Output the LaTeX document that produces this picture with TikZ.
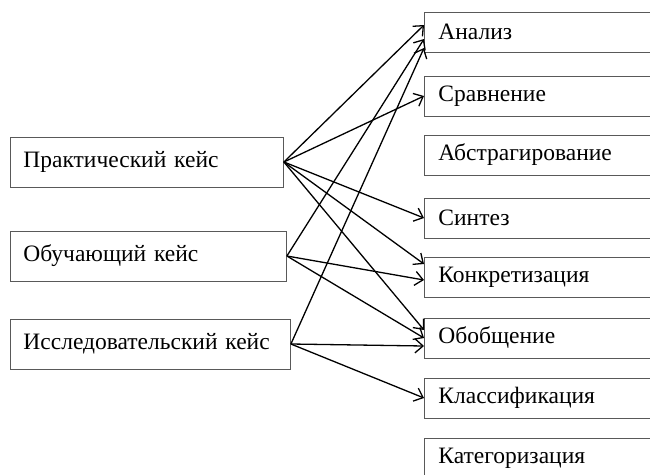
\documentclass[tikz,border=0pt]{standalone}
\usepackage{fontspec}
\setmainfont{Liberation Serif}
\usetikzlibrary{arrows.meta}

\begin{document}
\begin{tikzpicture}[x=1pt,y=-1pt,
    casebox/.style={draw=black!65,line width=0.9pt,anchor=west,align=left,
      minimum height=50pt,inner xsep=13pt,text width=#1,
      font=\fontsize{23.5}{27}\selectfont},
    opbox/.style={draw=black!65,line width=0.9pt,anchor=west,align=left,
      minimum height=40pt,inner xsep=14pt,text width=240pt,
      font=\fontsize{23.5}{27}\selectfont},
    link/.style={-{Straight Barb[length=8pt,width=14pt]},line width=1.3pt}]
  \useasboundingbox (0,0) rectangle (650,474);
  \node[casebox=247pt] (prakt) at (10,162) {Практический кейс};
  \node[casebox=250pt] (obuch) at (10,256) {Обучающий кейс};
  \node[casebox=254pt] (issl) at (10,344) {Исследовательский кейс};

  \node[opbox] (analiz) at (424,32) {Анализ};
  \node[opbox] (sravn) at (424,96) {Сравнение};
  \node[opbox] (abstr) at (424,155) {Абстрагирование};
  \node[opbox] (sintez) at (424,218) {Синтез};
  \node[opbox] (konkr) at (424,277) {Конкретизация};
  \node[opbox] (obobshch) at (424,338) {Обобщение};
  \node[opbox] (klass) at (424,398) {Классификация};
  \node[opbox] (kateg) at (424,458) {Категоризация};

  \draw[link] (prakt.east) -- ([yshift=7pt]analiz.west);
  \draw[link] (prakt.east) -- (sravn.west);
  \draw[link] (prakt.east) -- (sintez.west);
  \draw[link] (prakt.east) -- ([yshift=13pt]konkr.west);
  \draw[link] (prakt.east) -- ([yshift=8pt]obobshch.west);

  \draw[link] (obuch.east) -- ([yshift=-7pt]analiz.west);
  \draw[link] (obuch.east) -- ([yshift=-3pt]konkr.west);
  \draw[link] (obuch.east) -- (obobshch.west);

  \draw[link] (issl.east) -- ([yshift=-16pt]analiz.west);
  \draw[link] (issl.east) -- ([yshift=-8pt]obobshch.west);
  \draw[link] (issl.east) -- (klass.west);
\end{tikzpicture}
\end{document}
